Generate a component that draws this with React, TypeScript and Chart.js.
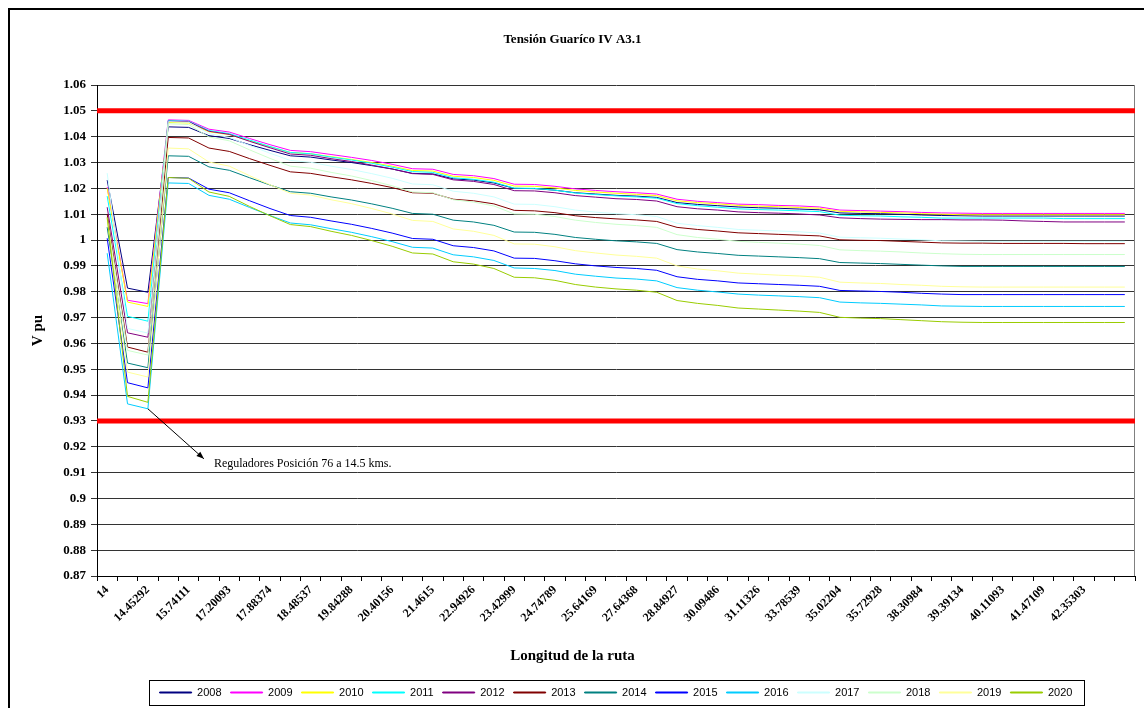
import React, { useEffect, useRef } from 'react';
import { Chart, registerables } from 'chart.js';

Chart.register(...registerables);

const chartTitle = 'Tensión Guaríco IV A3.1';
const xAxisTitle = 'Longitud de la ruta';
const yAxisTitle = 'V pu';
const annotationText = 'Reguladores Posición 76 a 14.5 kms.';
const annotationIndex = 2;

const tickLabels = [
  '14', '14.45292', '15.74111', '17.20093', '17.88374', '18.48537', '19.84288',
  '20.40156', '21.4615', '22.94926', '23.42999', '24.74789', '25.64169', '27.64368',
  '28.84927', '30.09486', '31.11326', '33.78539', '35.02204', '35.72928', '38.30984',
  '39.39134', '40.11093', '41.47109', '42.35303',
];
const categoryCount = 51;

const years = ['2008', '2009', '2010', '2011', '2012', '2013', '2014', '2015', '2016', '2017', '2018', '2019', '2020'];
const colors = ['#000080', '#FF00FF', '#FFFF00', '#00FFFF', '#800080', '#800000', '#008080', '#0000FF', '#00CCFF', '#CCFFFF', '#CCFFCC', '#FFFF99', '#99CC00'];
const limitValues = [1.05, 0.93];

const s2008 = [1.0232, 0.9814, 0.9798, 1.0438, 1.0436, 1.0404, 1.0393, 1.0369, 1.0347, 1.0326, 1.0321, 1.0310, 1.0300, 1.0288, 1.0275, 1.0258, 1.0256, 1.0237, 1.0232, 1.0221, 1.0200, 1.0199, 1.0193, 1.0183, 1.0178, 1.0173, 1.0170, 1.0165, 1.0145, 1.0138, 1.0133, 1.0128, 1.0125, 1.0123, 1.0120, 1.0117, 1.0105, 1.0103, 1.0102, 1.0100, 1.0097, 1.0095, 1.0094, 1.0093, 1.0093, 1.0093, 1.0093, 1.0093, 1.0093, 1.0093, 1.0093];
const s2009 = [1.0205, 0.9767, 0.9754, 1.0465, 1.0463, 1.0429, 1.0418, 1.0393, 1.0369, 1.0347, 1.0342, 1.0331, 1.0320, 1.0308, 1.0293, 1.0276, 1.0274, 1.0254, 1.0249, 1.0238, 1.0216, 1.0215, 1.0208, 1.0198, 1.0192, 1.0187, 1.0183, 1.0178, 1.0158, 1.0150, 1.0145, 1.0139, 1.0137, 1.0134, 1.0132, 1.0128, 1.0116, 1.0114, 1.0112, 1.0110, 1.0107, 1.0105, 1.0104, 1.0103, 1.0103, 1.0103, 1.0103, 1.0103, 1.0103, 1.0103, 1.0103];
const s2010 = [1.0200, 0.9760, 0.9743, 1.0455, 1.0453, 1.0419, 1.0408, 1.0384, 1.0361, 1.0339, 1.0334, 1.0323, 1.0312, 1.0300, 1.0286, 1.0269, 1.0267, 1.0247, 1.0242, 1.0231, 1.0209, 1.0208, 1.0202, 1.0192, 1.0186, 1.0181, 1.0177, 1.0172, 1.0152, 1.0145, 1.0140, 1.0134, 1.0131, 1.0129, 1.0126, 1.0123, 1.0111, 1.0109, 1.0107, 1.0105, 1.0102, 1.0100, 1.0098, 1.0098, 1.0098, 1.0098, 1.0098, 1.0098, 1.0098, 1.0098, 1.0098];
const s2011 = [1.0170, 0.9705, 0.9686, 1.0462, 1.0460, 1.0424, 1.0412, 1.0387, 1.0362, 1.0339, 1.0334, 1.0321, 1.0310, 1.0297, 1.0282, 1.0265, 1.0262, 1.0241, 1.0235, 1.0224, 1.0201, 1.0200, 1.0193, 1.0182, 1.0176, 1.0171, 1.0167, 1.0162, 1.0141, 1.0133, 1.0127, 1.0121, 1.0118, 1.0116, 1.0113, 1.0110, 1.0096, 1.0094, 1.0093, 1.0090, 1.0088, 1.0085, 1.0085, 1.0085, 1.0085, 1.0085, 1.0085, 1.0083, 1.0083, 1.0083, 1.0083];
const s2012 = [1.0127, 0.9641, 0.9624, 1.0460, 1.0458, 1.0421, 1.0409, 1.0382, 1.0357, 1.0333, 1.0328, 1.0315, 1.0304, 1.0290, 1.0275, 1.0257, 1.0254, 1.0233, 1.0227, 1.0215, 1.0191, 1.0190, 1.0183, 1.0172, 1.0166, 1.0160, 1.0157, 1.0151, 1.0129, 1.0121, 1.0116, 1.0109, 1.0106, 1.0104, 1.0101, 1.0097, 1.0086, 1.0083, 1.0081, 1.0080, 1.0079, 1.0079, 1.0078, 1.0078, 1.0077, 1.0074, 1.0072, 1.0070, 1.0070, 1.0070, 1.0070];
const s2013 = [1.0100, 0.9586, 0.9566, 1.0397, 1.0395, 1.0356, 1.0343, 1.0315, 1.0289, 1.0264, 1.0258, 1.0245, 1.0233, 1.0219, 1.0203, 1.0183, 1.0181, 1.0158, 1.0152, 1.0140, 1.0115, 1.0113, 1.0106, 1.0094, 1.0087, 1.0082, 1.0078, 1.0072, 1.0049, 1.0041, 1.0035, 1.0028, 1.0025, 1.0022, 1.0019, 1.0016, 1.0001, 0.9999, 0.9998, 0.9995, 0.9992, 0.9989, 0.9988, 0.9988, 0.9987, 0.9987, 0.9987, 0.9987, 0.9986, 0.9986, 0.9986];
const s2014 = [1.0050, 0.9524, 0.9506, 1.0326, 1.0324, 1.0283, 1.0270, 1.0241, 1.0213, 1.0187, 1.0181, 1.0167, 1.0155, 1.0140, 1.0123, 1.0103, 1.0100, 1.0077, 1.0070, 1.0057, 1.0031, 1.0030, 1.0022, 1.0010, 1.0003, 0.9997, 0.9993, 0.9987, 0.9963, 0.9954, 0.9948, 0.9941, 0.9938, 0.9935, 0.9932, 0.9928, 0.9913, 0.9911, 0.9909, 0.9906, 0.9903, 0.9900, 0.9898, 0.9898, 0.9898, 0.9898, 0.9898, 0.9898, 0.9898, 0.9898, 0.9898];
const s2015 = [1.0007, 0.9448, 0.9428, 1.0242, 1.0240, 1.0197, 1.0183, 1.0152, 1.0122, 1.0095, 1.0088, 1.0074, 1.0061, 1.0045, 1.0027, 1.0006, 1.0003, 0.9978, 0.9971, 0.9958, 0.9930, 0.9929, 0.9920, 0.9908, 0.9900, 0.9894, 0.9890, 0.9883, 0.9858, 0.9848, 0.9842, 0.9834, 0.9831, 0.9828, 0.9825, 0.9821, 0.9805, 0.9803, 0.9801, 0.9798, 0.9794, 0.9791, 0.9789, 0.9789, 0.9789, 0.9789, 0.9789, 0.9789, 0.9789, 0.9789, 0.9789];
const s2016 = [0.9949, 0.9366, 0.9347, 1.0221, 1.0219, 1.0173, 1.0158, 1.0126, 1.0095, 1.0066, 1.0059, 1.0044, 1.0030, 1.0013, 0.9994, 0.9972, 0.9969, 0.9943, 0.9935, 0.9921, 0.9892, 0.9890, 0.9882, 0.9868, 0.9860, 0.9853, 0.9849, 0.9842, 0.9816, 0.9806, 0.9799, 0.9791, 0.9787, 0.9784, 0.9781, 0.9777, 0.9760, 0.9757, 0.9755, 0.9752, 0.9749, 0.9745, 0.9744, 0.9743, 0.9743, 0.9743, 0.9743, 0.9743, 0.9743, 0.9743, 0.9743];
const s2017 = [1.0259, 0.9658, 0.9640, 1.0458, 1.0456, 1.0412, 1.0397, 1.0366, 1.0336, 1.0308, 1.0301, 1.0286, 1.0273, 1.0257, 1.0239, 1.0217, 1.0214, 1.0189, 1.0181, 1.0167, 1.0139, 1.0138, 1.0129, 1.0116, 1.0108, 1.0102, 1.0098, 1.0091, 1.0065, 1.0056, 1.0049, 1.0041, 1.0038, 1.0035, 1.0032, 1.0027, 1.0011, 1.0009, 1.0007, 1.0004, 1.0001, 0.9997, 0.9996, 0.9995, 0.9995, 0.9995, 0.9995, 0.9995, 0.9995, 0.9995, 0.9995];
const s2018 = [1.0085, 0.9573, 0.9555, 1.0450, 1.0447, 1.0399, 1.0384, 1.0349, 1.0316, 1.0286, 1.0278, 1.0262, 1.0248, 1.0230, 1.0210, 1.0186, 1.0183, 1.0156, 1.0147, 1.0132, 1.0101, 1.0100, 1.0091, 1.0077, 1.0068, 1.0061, 1.0056, 1.0049, 1.0021, 1.0010, 1.0003, 0.9995, 0.9991, 0.9988, 0.9984, 0.9979, 0.9962, 0.9959, 0.9957, 0.9954, 0.9950, 0.9947, 0.9945, 0.9944, 0.9944, 0.9944, 0.9944, 0.9944, 0.9944, 0.9944, 0.9944];
const s2019 = [1.0080, 0.9489, 0.9470, 1.0356, 1.0353, 1.0302, 1.0286, 1.0249, 1.0214, 1.0181, 1.0174, 1.0156, 1.0141, 1.0122, 1.0101, 1.0076, 1.0072, 1.0043, 1.0034, 1.0018, 0.9985, 0.9984, 0.9974, 0.9959, 0.9950, 0.9942, 0.9937, 0.9930, 0.9900, 0.9888, 0.9881, 0.9872, 0.9868, 0.9864, 0.9861, 0.9856, 0.9837, 0.9834, 0.9832, 0.9828, 0.9825, 0.9821, 0.9819, 0.9818, 0.9818, 0.9818, 0.9818, 0.9818, 0.9818, 0.9818, 0.9818];
const s2020 = [1.0088, 0.9395, 0.9372, 1.0242, 1.0239, 1.0186, 1.0169, 1.0130, 1.0094, 1.0060, 1.0052, 1.0034, 1.0018, 0.9998, 0.9976, 0.9950, 0.9946, 0.9916, 0.9907, 0.9890, 0.9856, 0.9854, 0.9844, 0.9828, 0.9818, 0.9811, 0.9806, 0.9798, 0.9766, 0.9755, 0.9747, 0.9737, 0.9733, 0.9729, 0.9725, 0.9720, 0.9701, 0.9698, 0.9696, 0.9692, 0.9688, 0.9684, 0.9682, 0.9681, 0.9681, 0.9681, 0.9681, 0.9681, 0.9681, 0.9681, 0.9681];

const series = [s2008, s2009, s2010, s2011, s2012, s2013, s2014, s2015, s2016, s2017, s2018, s2019, s2020];

const serif = "'Liberation Serif', 'Times New Roman', serif";
const sans = "'Liberation Sans', Arial, sans-serif";

const categories = Array.from({ length: categoryCount }, (_, i) =>
  i % 2 === 0 && i / 2 < tickLabels.length ? tickLabels[i / 2] : ''
);

const decorPlugin = {
  id: 'decor',
  beforeDatasetsDraw(chart: any) {
    const { ctx, chartArea: a, scales } = chart;
    const y = scales.y;
    ctx.save();
    ctx.strokeStyle = '#808080';
    ctx.lineWidth = 1;
    ctx.beginPath();
    const rx = Math.round(a.right) - 0.5;
    ctx.moveTo(rx, a.top);
    ctx.lineTo(rx, a.bottom);
    ctx.stroke();
    ctx.strokeStyle = '#FF0000';
    ctx.lineWidth = 5;
    limitValues.forEach((v) => {
      const py = y.getPixelForValue(v);
      ctx.beginPath();
      ctx.moveTo(a.left, py);
      ctx.lineTo(a.right, py);
      ctx.stroke();
    });
    ctx.restore();
  },
  afterDraw(chart: any) {
    const { ctx, scales } = chart;
    const x = scales.x;
    const y = scales.y;
    ctx.save();
    const minVal = Math.min(...series.map((s) => s[annotationIndex]));
    const sx = x.getPixelForValue(annotationIndex);
    const sy = y.getPixelForValue(minVal);
    const ex = sx + 56;
    const ey = sy + 50;
    ctx.strokeStyle = '#000';
    ctx.fillStyle = '#000';
    ctx.lineWidth = 1;
    ctx.beginPath();
    ctx.moveTo(sx, sy);
    ctx.lineTo(ex, ey);
    ctx.stroke();
    const ang = Math.atan2(ey - sy, ex - sx);
    const hl = 8;
    ctx.beginPath();
    ctx.moveTo(ex, ey);
    ctx.lineTo(ex - hl * Math.cos(ang - 0.38), ey - hl * Math.sin(ang - 0.38));
    ctx.lineTo(ex - hl * Math.cos(ang + 0.38), ey - hl * Math.sin(ang + 0.38));
    ctx.closePath();
    ctx.fill();
    ctx.font = `12px ${serif}`;
    ctx.textAlign = 'left';
    ctx.textBaseline = 'alphabetic';
    ctx.fillText(annotationText, ex + 10, ey + 8);

    const hb = chart.legend && chart.legend.legendHitBoxes;
    if (hb && hb.length) {
      const first = hb[0];
      const last = hb[hb.length - 1];
      const left = Math.round(first.left - 11) + 0.5;
      const right = Math.round(last.left + last.width + 12) + 0.5;
      const top = Math.round(first.top - 7) + 0.5;
      const bottom = Math.round(first.top + first.height + 7) + 0.5;
      ctx.strokeStyle = '#000';
      ctx.lineWidth = 1;
      ctx.strokeRect(left, top, right - left, bottom - top);
    }
    ctx.restore();
  },
};

export default function App() {
  const ref = useRef<HTMLCanvasElement>(null);

  useEffect(() => {
    if (!ref.current) return;
    const chart = new Chart(ref.current, {
      type: 'line',
      data: {
        labels: categories,
        datasets: series.map((s, i) => ({
          label: years[i],
          data: s,
          borderColor: colors[i],
          backgroundColor: colors[i],
          borderWidth: 1,
          pointRadius: 0,
          tension: 0,
          fill: false,
          order: series.length - i,
        })),
      },
      options: {
        responsive: false,
        animation: false,
        layout: { padding: { left: 0, right: 9, top: 0, bottom: 0 } },
        plugins: {
          title: {
            display: true,
            text: chartTitle,
            color: '#000',
            font: { family: serif, size: 13, weight: 'bold' },
            padding: { top: 22, bottom: 37.4 },
          },
          subtitle: {
            display: true,
            position: 'bottom',
            text: xAxisTitle,
            color: '#000',
            weight: 1500,
            font: { family: serif, size: 15, weight: 'bold' },
            padding: { top: 21, bottom: 13 },
          },
          legend: {
            display: true,
            position: 'bottom',
            fullSize: false,
            weight: 1600,
            labels: {
              boxWidth: 32,
              boxHeight: 1,
              padding: 9,
              color: '#000',
              font: { family: sans, size: 11 },
              sort: (a: any, b: any) => a.datasetIndex - b.datasetIndex,
            },
          },
          tooltip: { enabled: false },
        },
        scales: {
          x: {
            type: 'category',
            offset: true,
            grid: { offset: true, drawOnChartArea: false, drawTicks: true, tickLength: 5, color: '#000' },
            border: { display: true, color: '#000', width: 1 },
            ticks: {
              autoSkip: false,
              minRotation: 45,
              maxRotation: 45,
              color: '#000',
              padding: 2,
              font: { family: serif, size: 12, weight: 'bold' },
            },
            afterFit: (scale: any) => {
              scale.height = 50;
            },
          },
          y: {
            min: 0.87,
            max: 1.06,
            grid: { color: '#333', tickLength: 6, drawTicks: true },
            border: { display: true, color: '#000', width: 1 },
            ticks: {
              stepSize: 0.01,
              color: '#000',
              padding: 5,
              font: { family: serif, size: 13, weight: 'bold' },
              callback: (v: any) => String(parseFloat(Number(v).toFixed(2))),
            },
            title: {
              display: true,
              text: yAxisTitle,
              color: '#000',
              font: { family: serif, size: 15, weight: 'bold' },
              padding: { top: 19, bottom: 0 },
            },
            afterFit: (scale: any) => {
              scale.width = 87;
            },
          },
        },
      } as any,
      plugins: [decorPlugin],
    });
    return () => chart.destroy();
  }, []);

  return (
    <div
      style={{
        position: 'absolute',
        left: 8,
        top: 8,
        width: 1136,
        height: 700,
        boxSizing: 'border-box',
        borderTop: '2px solid #000',
        borderLeft: '2px solid #000',
        background: '#fff',
      }}
    >
      <canvas ref={ref} width={1134} height={698} style={{ display: 'block', width: 1134, height: 698 }} />
    </div>
  );
}
